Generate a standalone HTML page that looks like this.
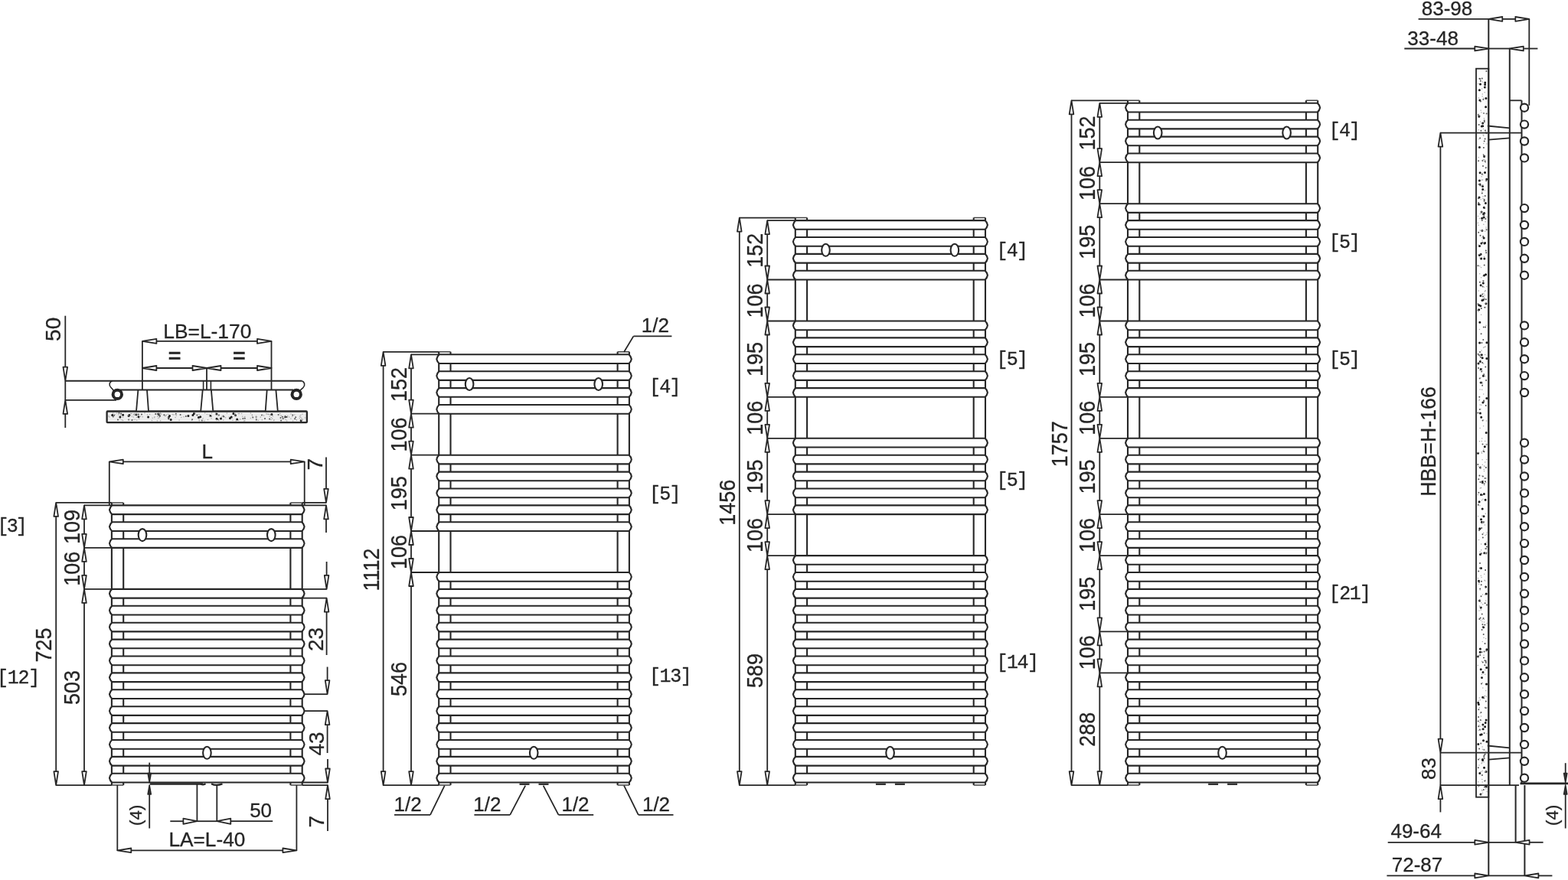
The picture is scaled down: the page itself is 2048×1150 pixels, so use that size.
<!DOCTYPE html>
<html lang="en">
<head>
<meta charset="utf-8">
<title>Radiator dimensions</title>
<style>
html,body{margin:0;padding:0;background:#fff;}
body{width:2048px;height:1150px;overflow:hidden;}
svg{display:block;will-change:transform;}
svg text{fill:#262626;stroke:#262626;stroke-width:.3px;}
.a{font-family:"Liberation Sans",Arial,Helvetica,sans-serif;}
.m{font-family:"Liberation Mono","DejaVu Sans Mono",monospace;}
</style>
</head>
<body>
<svg width="2048" height="1150" viewBox="0 0 2048 1150">
<g fill="none" stroke="#262626" style="filter:blur(.4px)">
<rect x="139.6" y="537.5" width="261.3" height="14.7" rx="1" stroke-width="2.3" fill="#ededed"/>
<path d="M156.9 545h.01M253.4 540.5h.01M181 544.8h.01M304.9 540.4h.01M168.1 543.5h.01M261.7 544.8h.01M354.9 541.5h.01M274.9 543.5h.01M309.7 548h.01M282.9 541.1h.01M160.6 542.3h.01M302.2 545.1h.01M168.9 542.5h.01M288.5 547h.01M146.7 542.4h.01M245.9 543.4h.01M207.6 541.5h.01M221.5 543.5h.01M193.6 545h.01M300.4 546.4h.01M220.2 545.6h.01M393.2 549.4h.01M372.5 544.8h.01M223.2 548.5h.01M251.9 542.6h.01M283 547.2h.01M307.5 542.7h.01M177.8 541.8h.01M259.4 545.5h.01" stroke-width="3" stroke-linecap="round" stroke="#1c1c1c"/>
<path d="M251 548.3h.01M154 548.6h.01M158.1 540.4h.01M292.4 544.5h.01M346 547h.01M147.8 544.6h.01M180.8 541.6h.01M242.8 543.9h.01M155.5 539.8h.01M366.5 546.1h.01M168.2 543.3h.01M386.2 545.2h.01M209.1 543.6h.01M352.1 547.4h.01M149.2 542.7h.01M235.6 542.1h.01M334.6 544.7h.01M385.1 547.3h.01M354.2 542h.01M208.6 544.1h.01M284.6 547.9h.01M285.9 542.4h.01M367.1 549.5h.01M342 542.6h.01M203.2 540.9h.01M220.3 547.6h.01M330.3 545.5h.01M263.9 549.4h.01M214.4 542.3h.01M317.4 546.9h.01M206.8 540.6h.01M319.8 546.8h.01M172.4 549h.01M257.4 542.6h.01M369.7 547h.01M334.8 548.4h.01M168.1 548.4h.01M382.3 542.4h.01M185 541.5h.01M374.7 544.9h.01M229.8 540.7h.01M363.6 542h.01M205.8 540.9h.01M307.8 542.9h.01M291.7 543.8h.01M369 544.7h.01" stroke-width="2" stroke-linecap="round" stroke="#555"/>
<path d="M225.2 541.4h.01M160.6 545.3h.01M199.3 546.3h.01M290.2 543.9h.01M179 541h.01M351.6 541.7h.01M306.1 543.6h.01M316.7 544.2h.01M289.5 545.2h.01M329.3 542.8h.01M172.3 544.1h.01M313.6 547.7h.01M366.8 543h.01M294.6 545.8h.01M357.7 549.5h.01M312.6 540.4h.01M308.2 550h.01M215.1 543.8h.01M172.1 540.4h.01M175.2 542.4h.01M365.8 540.6h.01M283.1 548.9h.01M363.9 542.7h.01M234.1 548.9h.01M201.9 544.8h.01M209.5 539.8h.01M236.8 545.6h.01M319.3 545.1h.01M315.6 540.4h.01M342.3 548.8h.01M195.6 541.5h.01M206.8 543.4h.01M173.5 548.5h.01M281.5 540.1h.01M393.3 548.7h.01M340.2 545.3h.01M226.7 542.1h.01M394.9 548.6h.01M319.8 549.7h.01M382.6 550h.01M192.5 541.9h.01M373.2 548.5h.01M311.6 549.2h.01M344.6 543.2h.01M391.5 543.9h.01M174.6 541.4h.01M349.1 541.3h.01M393.7 546.6h.01M391.3 546.5h.01M381.8 544.3h.01M217.2 542.3h.01M375.7 543.4h.01M291.8 549.1h.01M377.7 545h.01M276.4 540h.01M189 539.8h.01M186.3 544.7h.01M284.9 543.2h.01M340.3 545h.01M337.2 549.2h.01M299.3 545h.01M319.9 544.5h.01M264.8 549.5h.01M285.7 549.5h.01M177.2 541.1h.01M313.9 547.9h.01M181.7 547.2h.01M178.7 548.9h.01M198.4 549.6h.01M267.1 550h.01M183.5 544.2h.01M229.1 541.8h.01M327.4 540h.01M255.1 540h.01M395 547.9h.01M250.4 549.2h.01M208.4 541.3h.01M156.8 546.9h.01M160.6 549.5h.01M347.9 540.7h.01M159.1 548.7h.01M229.1 545.5h.01M210.8 541.1h.01M154.9 541.9h.01M270.4 541.6h.01M352.3 544.3h.01M356.3 543.8h.01M318.6 549.9h.01M355.7 547.1h.01M175.3 540.5h.01M358 548.8h.01M260 541.4h.01M209.6 549.7h.01M282.5 542.3h.01M240 544.7h.01M209.8 540.7h.01M152.7 540h.01M201.8 545.8h.01M334.7 546.6h.01M367.8 543.8h.01M394.9 541.3h.01M307.2 540.3h.01M371.1 546.3h.01M350.6 541.2h.01M271.5 548.4h.01M354.2 545.8h.01M150 541.2h.01M168.9 548.4h.01M303.2 546.3h.01M267.7 539.8h.01M334.2 545h.01M311.3 540.5h.01M329.3 541.9h.01M392.6 544.9h.01M265 546.8h.01M179.9 542.4h.01M157.6 542.6h.01M274.6 544.6h.01M259.9 548.2h.01M384.8 542h.01M178.4 545.2h.01M176.1 548.2h.01M142.9 544.9h.01M219.5 541.2h.01M379.9 547.1h.01M216.4 543.6h.01M398.5 545.9h.01M273.2 541.8h.01M387.5 548.9h.01M304 549.2h.01M330.1 544.4h.01M380 541.1h.01M230.3 542.9h.01M392.7 542.5h.01M219.3 545.5h.01M374.7 550.1h.01M208.3 545.7h.01M334.5 544.1h.01M276.6 543.7h.01M157.9 542.7h.01M174.3 545h.01M205.8 543.9h.01M387 548.5h.01M147.6 540.1h.01M372 544.7h.01M142 543.8h.01M354 548.6h.01M276.1 546.8h.01M327.3 546.5h.01M342.9 542.2h.01M206.7 546.4h.01M170.8 540.5h.01M296.4 539.9h.01M260.3 549.7h.01M205.4 549.7h.01" stroke-width="1.5" stroke-linecap="round" stroke="#aaa"/>
<path d="M180.4 509.6L178 537.4L194 537.4L192 509.6" stroke-width="1.8" fill="#fff"/>
<path d="M264.7 509.6L262.2 537.4L278.3 537.4L275.9 509.6" stroke-width="1.8" fill="#fff"/>
<path d="M348.7 509.6L346.7 537.4L362.8 537.4L360.4 509.6" stroke-width="1.8" fill="#fff"/>
<path d="M85.3 497.7L394.3 497.7" stroke-width="2"/>
<path d="M157 509.6L383 509.6" stroke-width="2"/>
<path d="M146.6 497.7C143 499 141.6 503 145 506.5C146.5 508 147.5 509 148.5 510.5" stroke-width="1.6"/>
<path d="M394.3 497.7C397.6 499 399.2 503 396 506.5C394.5 508 393 509 392 510.5" stroke-width="1.6"/>
<circle cx="153.3" cy="515.4" r="5.7" stroke-width="4" fill="#fff"/>
<circle cx="387.2" cy="515.4" r="5.7" stroke-width="4" fill="#fff"/>
<path d="M265.6 497.7L265.6 509.6" stroke-width="1.6"/>
<path d="M275.4 497.7L275.4 509.6" stroke-width="1.6"/>
<path d="M85.3 522.9L152 522.9" stroke-width="1.8"/>
<path d="M85.3 412.7L85.3 480" stroke-width="1.8"/>
<path d="M85.3 497.7L85.3 522.9" stroke-width="1.8"/>
<path d="M85.3 541L85.3 559" stroke-width="1.8"/>
<path d="M85.3 497.7L82.5 479.7L88.1 479.7Z" stroke-width="1.8" fill="#fff" stroke-linejoin="round"/>
<path d="M85.3 522.9L82.5 540.9L88.1 540.9Z" stroke-width="1.8" fill="#fff" stroke-linejoin="round"/>
<text class="a" transform="translate(79.2 430.3) rotate(-90)" font-size="28" text-anchor="middle">50</text>
<path d="M185.9 445.9L185.9 509.6" stroke-width="1.8"/>
<path d="M354.5 445.9L354.5 509.6" stroke-width="1.8"/>
<path d="M270 481L270 509.6" stroke-width="1.8"/>
<path d="M204 445.9L336.4 445.9" stroke-width="1.8"/>
<path d="M185.9 445.9L204.4 442.9L204.4 448.9Z" stroke-width="1.8" fill="#fff" stroke-linejoin="round"/>
<path d="M354.5 445.9L336 442.9L336 448.9Z" stroke-width="1.8" fill="#fff" stroke-linejoin="round"/>
<path d="M204 481L252 481" stroke-width="1.8"/>
<path d="M288 481L336.4 481" stroke-width="1.8"/>
<path d="M185.9 481L204.4 478L204.4 484Z" stroke-width="1.8" fill="#fff" stroke-linejoin="round"/>
<path d="M270 481L251.5 478L251.5 484Z" stroke-width="1.8" fill="#fff" stroke-linejoin="round"/>
<path d="M270 481L288.5 478L288.5 484Z" stroke-width="1.8" fill="#fff" stroke-linejoin="round"/>
<path d="M354.5 481L336 478L336 484Z" stroke-width="1.8" fill="#fff" stroke-linejoin="round"/>
<text class="a" transform="translate(270.8 442)" font-size="26.4" text-anchor="middle">LB=L-170</text>
<text class="a" transform="translate(228 473.6) scale(1.140 1.000)" font-size="25" text-anchor="middle" font-weight="bold">=</text>
<text class="a" transform="translate(312.3 473.6) scale(1.140 1.000)" font-size="25" text-anchor="middle" font-weight="bold">=</text>
<path d="M145.9 656.9V1026.1M161.2 656.9V1026.1" stroke-width="2.1"/>
<path d="M145.9 656.9H161.2M145.9 1026.1H161.2" stroke-width="1.5" stroke="#444"/>
<path d="M379.4 656.9V1026.1M394.7 656.9V1026.1" stroke-width="2.1"/>
<path d="M379.4 656.9H394.7M379.4 1026.1H394.7" stroke-width="1.5" stroke="#444"/>
<path d="M146.3 660.4H394.3Q396.9 662.4 397.6 666.3Q396.9 670.1 394.3 672.1H146.3Q143.7 670.1 143 666.3Q143.7 662.4 146.3 660.4ZM146.3 682.3H394.3Q396.9 684.3 397.6 688.2Q396.9 692 394.3 694H146.3Q143.7 692 143 688.2Q143.7 684.3 146.3 682.3ZM146.3 704.2H394.3Q396.9 706.2 397.6 710.1Q396.9 713.9 394.3 715.9H146.3Q143.7 713.9 143 710.1Q143.7 706.2 146.3 704.2ZM146.3 769.9H394.3Q396.9 771.9 397.6 775.8Q396.9 779.6 394.3 781.6H146.3Q143.7 779.6 143 775.8Q143.7 771.9 146.3 769.9ZM146.3 791.8H394.3Q396.9 793.8 397.6 797.7Q396.9 801.5 394.3 803.5H146.3Q143.7 801.5 143 797.7Q143.7 793.8 146.3 791.8ZM146.3 813.7H394.3Q396.9 815.7 397.6 819.6Q396.9 823.4 394.3 825.4H146.3Q143.7 823.4 143 819.6Q143.7 815.7 146.3 813.7ZM146.3 835.6H394.3Q396.9 837.6 397.6 841.5Q396.9 845.3 394.3 847.3H146.3Q143.7 845.3 143 841.5Q143.7 837.6 146.3 835.6ZM146.3 857.5H394.3Q396.9 859.5 397.6 863.4Q396.9 867.2 394.3 869.2H146.3Q143.7 867.2 143 863.4Q143.7 859.5 146.3 857.5ZM146.3 879.4H394.3Q396.9 881.4 397.6 885.3Q396.9 889.1 394.3 891.1H146.3Q143.7 889.1 143 885.3Q143.7 881.4 146.3 879.4ZM146.3 901.3H394.3Q396.9 903.3 397.6 907.2Q396.9 911 394.3 913H146.3Q143.7 911 143 907.2Q143.7 903.3 146.3 901.3ZM146.3 923.2H394.3Q396.9 925.2 397.6 929.1Q396.9 932.9 394.3 934.9H146.3Q143.7 932.9 143 929.1Q143.7 925.2 146.3 923.2ZM146.3 945.1H394.3Q396.9 947.1 397.6 951Q396.9 954.8 394.3 956.8H146.3Q143.7 954.8 143 951Q143.7 947.1 146.3 945.1ZM146.3 967H394.3Q396.9 969 397.6 972.9Q396.9 976.7 394.3 978.7H146.3Q143.7 976.7 143 972.9Q143.7 969 146.3 967ZM146.3 988.9H394.3Q396.9 990.9 397.6 994.8Q396.9 998.6 394.3 1000.6H146.3Q143.7 998.6 143 994.8Q143.7 990.9 146.3 988.9ZM146.3 1010.8H394.3Q396.9 1012.8 397.6 1016.7Q396.9 1020.5 394.3 1022.5H146.3Q143.7 1020.5 143 1016.7Q143.7 1012.8 146.3 1010.8Z" stroke-width="2.1" fill="#fff" stroke-linejoin="round"/>
<ellipse cx="186" cy="699.1" rx="5.3" ry="8" stroke-width="2.1" fill="#fff"/>
<ellipse cx="354.3" cy="699.1" rx="5.3" ry="8" stroke-width="2.1" fill="#fff"/>
<ellipse cx="270.4" cy="983.8" rx="5.3" ry="8" stroke-width="2.1" fill="#fff"/>
<path d="M73.2 656.9L145.9 656.9" stroke-width="1.8"/>
<path d="M394.7 656.9L426 656.9" stroke-width="1.8"/>
<path d="M110 660.4L145.6 660.4" stroke-width="1.8"/>
<path d="M395 660.4L426 660.4" stroke-width="1.8"/>
<path d="M73.2 1026.1L145.9 1026.1" stroke-width="1.8"/>
<path d="M394.7 1026.1L428 1026.1" stroke-width="1.8"/>
<path d="M395 1022.5L428 1022.5" stroke-width="1.8"/>
<path d="M73.2 674.9L73.2 1008.1" stroke-width="1.8"/>
<path d="M73.2 656.9L70.4 674.9L76 674.9Z" stroke-width="1.8" fill="#fff" stroke-linejoin="round"/>
<path d="M73.2 1026.1L70.4 1008.1L76 1008.1Z" stroke-width="1.8" fill="#fff" stroke-linejoin="round"/>
<text class="a" transform="translate(67.3 843) rotate(-90) scale(1.000 1.090)" font-size="27" text-anchor="middle">725</text>
<path d="M110 678.4L110 697.9" stroke-width="1.8"/>
<text class="a" transform="translate(103.7 688.6) rotate(-90) scale(1.000 1.090)" font-size="27" text-anchor="middle">109</text>
<path d="M110 733.9L110 751.9" stroke-width="1.8"/>
<text class="a" transform="translate(103.7 743.3) rotate(-90) scale(1.000 1.090)" font-size="27" text-anchor="middle">106</text>
<path d="M110 787.9L110 1008.1" stroke-width="1.8"/>
<text class="a" transform="translate(103.7 898.4) rotate(-90) scale(1.000 1.090)" font-size="27" text-anchor="middle">503</text>
<path d="M110 660.4L107.2 678.4L112.8 678.4Z" stroke-width="1.8" fill="#fff" stroke-linejoin="round"/>
<path d="M110 715.9L107.2 697.9L112.8 697.9Z" stroke-width="1.8" fill="#fff" stroke-linejoin="round"/>
<path d="M110 715.9L107.2 733.9L112.8 733.9Z" stroke-width="1.8" fill="#fff" stroke-linejoin="round"/>
<path d="M110 769.9L107.2 751.9L112.8 751.9Z" stroke-width="1.8" fill="#fff" stroke-linejoin="round"/>
<path d="M110 769.9L107.2 787.9L112.8 787.9Z" stroke-width="1.8" fill="#fff" stroke-linejoin="round"/>
<path d="M110 1026.1L107.2 1008.1L112.8 1008.1Z" stroke-width="1.8" fill="#fff" stroke-linejoin="round"/>
<path d="M110 715.9L145.6 715.9" stroke-width="1.8"/>
<path d="M110 769.9L145.6 769.9" stroke-width="1.8"/>
<path d="M142.8 603.4L142.8 660.9" stroke-width="1.8"/>
<path d="M397.7 603.4L397.7 660.9" stroke-width="1.8"/>
<path d="M160 603.4L380.5 603.4" stroke-width="1.8"/>
<path d="M142.8 603.4L160.8 600.6L160.8 606.2Z" stroke-width="1.8" fill="#fff" stroke-linejoin="round"/>
<path d="M397.7 603.4L379.7 600.6L379.7 606.2Z" stroke-width="1.8" fill="#fff" stroke-linejoin="round"/>
<text class="a" transform="translate(270.8 598.6)" font-size="26" text-anchor="middle">L</text>
<path d="M426 597.6L426 638.9" stroke-width="1.8"/>
<path d="M426 656.9L423.2 638.9L428.8 638.9Z" stroke-width="1.8" fill="#fff" stroke-linejoin="round"/>
<path d="M426 660.4L423.2 678.4L428.8 678.4Z" stroke-width="1.8" fill="#fff" stroke-linejoin="round"/>
<path d="M426 678.4L426 696" stroke-width="1.8"/>
<text class="a" transform="translate(421.3 606.6) rotate(-90)" font-size="28" text-anchor="middle">7</text>
<path d="M395 769.9L426.6 769.9" stroke-width="1.8"/>
<path d="M395 781.6L426.6 781.6" stroke-width="1.8"/>
<path d="M426.6 734L426.6 751.9" stroke-width="1.8"/>
<path d="M426.6 769.9L423.8 751.9L429.4 751.9Z" stroke-width="1.8" fill="#fff" stroke-linejoin="round"/>
<path d="M426.6 781.6L423.8 799.6L429.4 799.6Z" stroke-width="1.8" fill="#fff" stroke-linejoin="round"/>
<path d="M426.6 799.6L426.6 856" stroke-width="1.8"/>
<text class="a" transform="translate(421.6 835.4) rotate(-90)" font-size="28" text-anchor="middle">23</text>
<path d="M398 907.2L427.6 907.2" stroke-width="1.8"/>
<path d="M398 929.1L427.6 929.1" stroke-width="1.8"/>
<path d="M427.6 871.5L427.6 889.2" stroke-width="1.8"/>
<path d="M427.6 907.2L424.8 889.2L430.4 889.2Z" stroke-width="1.8" fill="#fff" stroke-linejoin="round"/>
<path d="M427.6 929.1L424.8 947.1L430.4 947.1Z" stroke-width="1.8" fill="#fff" stroke-linejoin="round"/>
<path d="M427.6 947.1L427.6 984" stroke-width="1.8"/>
<text class="a" transform="translate(422.5 972) rotate(-90)" font-size="28" text-anchor="middle">43</text>
<path d="M428 992L428 1004.5" stroke-width="1.8"/>
<path d="M428 1022.5L425.2 1004.5L430.8 1004.5Z" stroke-width="1.8" fill="#fff" stroke-linejoin="round"/>
<path d="M428 1026.1L425.2 1044.1L430.8 1044.1Z" stroke-width="1.8" fill="#fff" stroke-linejoin="round"/>
<path d="M428 1044.1L428 1086" stroke-width="1.8"/>
<text class="a" transform="translate(422.8 1073.8) rotate(-90)" font-size="28" text-anchor="middle">7</text>
<path d="M196 1024.5L265 1024.5" stroke-width="2.6"/>
<path d="M262 1024.6q4 1.8 6.5 -.4M276 1024.2q6 3.4 14.5 .2" stroke-width="2.2"/>
<path d="M257.4 1025L257.4 1073.2" stroke-width="1.8"/>
<path d="M283.3 1025L283.3 1073.2" stroke-width="1.8"/>
<path d="M222.3 1073.2L240 1073.2" stroke-width="1.8"/>
<path d="M257.4 1073.2L283.3 1073.2" stroke-width="1.8"/>
<path d="M301 1073.2L356.2 1073.2" stroke-width="1.8"/>
<path d="M257.4 1073.2L239.4 1069.6L239.4 1076.8Z" stroke-width="1.8" fill="#fff" stroke-linejoin="round"/>
<path d="M283.3 1073.2L301.3 1069.6L301.3 1076.8Z" stroke-width="1.8" fill="#fff" stroke-linejoin="round"/>
<text class="a" transform="translate(340.6 1068.4)" font-size="26" text-anchor="middle">50</text>
<path d="M153.3 1026.1L153.3 1111.3" stroke-width="1.8"/>
<path d="M387.4 1026.1L387.4 1111.3" stroke-width="1.8"/>
<path d="M171 1111.3L370 1111.3" stroke-width="1.8"/>
<path d="M153.3 1111.3L171.3 1108.5L171.3 1114.1Z" stroke-width="1.8" fill="#fff" stroke-linejoin="round"/>
<path d="M387.4 1111.3L369.4 1108.5L369.4 1114.1Z" stroke-width="1.8" fill="#fff" stroke-linejoin="round"/>
<text class="a" transform="translate(270.4 1106)" font-size="26.2" text-anchor="middle">LA=L-40</text>
<path d="M195.2 996.6L195.2 1011" stroke-width="1.8"/>
<path d="M195.2 1023L193 1010.5L197.4 1010.5Z" stroke-width="1.4" fill="#333" stroke-linejoin="round"/>
<path d="M195.2 1025.6L193 1038.1L197.4 1038.1Z" stroke-width="1.4" fill="#333" stroke-linejoin="round"/>
<path d="M195.2 1037.6L195.2 1082.5" stroke-width="1.8"/>
<text class="m" transform="translate(185.3 1065.3) rotate(-90)" x="-16.1 -6.7 2.6" y="0" font-size="22.5">(4)</text>
<text class="m" transform="translate(0 694.5) scale(1 1.05)" x="-3.5 8.7 20.8" y="0" font-size="25">[3]</text>
<text class="m" transform="translate(0 892.6) scale(1 1.05)" x="-4.1 9.7 23.5 37.3" y="0" font-size="25">[12]</text>
<path d="M573.2 459.8V1026.1M588.5 459.8V1026.1" stroke-width="2.1"/>
<path d="M573.2 459.8H588.5M573.2 1026.1H588.5" stroke-width="1.5" stroke="#444"/>
<path d="M806.6 459.8V1026.1M821.9 459.8V1026.1" stroke-width="2.1"/>
<path d="M806.6 459.8H821.9M806.6 1026.1H821.9" stroke-width="1.5" stroke="#444"/>
<path d="M573.6 463.3H821.5Q824.1 465.3 824.8 469.2Q824.1 473 821.5 475H573.6Q571 473 570.3 469.2Q571 465.3 573.6 463.3ZM573.6 485.2H821.5Q824.1 487.2 824.8 491.1Q824.1 494.9 821.5 496.9H573.6Q571 494.9 570.3 491.1Q571 487.2 573.6 485.2ZM573.6 507.1H821.5Q824.1 509.1 824.8 513Q824.1 516.8 821.5 518.8H573.6Q571 516.8 570.3 513Q571 509.1 573.6 507.1ZM573.6 529H821.5Q824.1 531 824.8 534.9Q824.1 538.7 821.5 540.7H573.6Q571 538.7 570.3 534.9Q571 531 573.6 529ZM573.6 594.7H821.5Q824.1 596.7 824.8 600.6Q824.1 604.4 821.5 606.4H573.6Q571 604.4 570.3 600.6Q571 596.7 573.6 594.7ZM573.6 616.6H821.5Q824.1 618.6 824.8 622.5Q824.1 626.3 821.5 628.3H573.6Q571 626.3 570.3 622.5Q571 618.6 573.6 616.6ZM573.6 638.5H821.5Q824.1 640.5 824.8 644.4Q824.1 648.2 821.5 650.2H573.6Q571 648.2 570.3 644.4Q571 640.5 573.6 638.5ZM573.6 660.4H821.5Q824.1 662.4 824.8 666.3Q824.1 670.1 821.5 672.1H573.6Q571 670.1 570.3 666.3Q571 662.4 573.6 660.4ZM573.6 682.3H821.5Q824.1 684.3 824.8 688.2Q824.1 692 821.5 694H573.6Q571 692 570.3 688.2Q571 684.3 573.6 682.3ZM573.6 748H821.5Q824.1 750 824.8 753.9Q824.1 757.7 821.5 759.7H573.6Q571 757.7 570.3 753.9Q571 750 573.6 748ZM573.6 769.9H821.5Q824.1 771.9 824.8 775.8Q824.1 779.6 821.5 781.6H573.6Q571 779.6 570.3 775.8Q571 771.9 573.6 769.9ZM573.6 791.8H821.5Q824.1 793.8 824.8 797.7Q824.1 801.5 821.5 803.5H573.6Q571 801.5 570.3 797.7Q571 793.8 573.6 791.8ZM573.6 813.7H821.5Q824.1 815.7 824.8 819.6Q824.1 823.4 821.5 825.4H573.6Q571 823.4 570.3 819.6Q571 815.7 573.6 813.7ZM573.6 835.6H821.5Q824.1 837.6 824.8 841.5Q824.1 845.3 821.5 847.3H573.6Q571 845.3 570.3 841.5Q571 837.6 573.6 835.6ZM573.6 857.5H821.5Q824.1 859.5 824.8 863.4Q824.1 867.2 821.5 869.2H573.6Q571 867.2 570.3 863.4Q571 859.5 573.6 857.5ZM573.6 879.4H821.5Q824.1 881.4 824.8 885.3Q824.1 889.1 821.5 891.1H573.6Q571 889.1 570.3 885.3Q571 881.4 573.6 879.4ZM573.6 901.3H821.5Q824.1 903.3 824.8 907.2Q824.1 911 821.5 913H573.6Q571 911 570.3 907.2Q571 903.3 573.6 901.3ZM573.6 923.2H821.5Q824.1 925.2 824.8 929.1Q824.1 932.9 821.5 934.9H573.6Q571 932.9 570.3 929.1Q571 925.2 573.6 923.2ZM573.6 945.1H821.5Q824.1 947.1 824.8 951Q824.1 954.8 821.5 956.8H573.6Q571 954.8 570.3 951Q571 947.1 573.6 945.1ZM573.6 967H821.5Q824.1 969 824.8 972.9Q824.1 976.7 821.5 978.7H573.6Q571 976.7 570.3 972.9Q571 969 573.6 967ZM573.6 988.9H821.5Q824.1 990.9 824.8 994.8Q824.1 998.6 821.5 1000.6H573.6Q571 998.6 570.3 994.8Q571 990.9 573.6 988.9ZM573.6 1010.8H821.5Q824.1 1012.8 824.8 1016.7Q824.1 1020.5 821.5 1022.5H573.6Q571 1020.5 570.3 1016.7Q571 1012.8 573.6 1010.8Z" stroke-width="2.1" fill="#fff" stroke-linejoin="round"/>
<ellipse cx="613.1" cy="502" rx="5.3" ry="8" stroke-width="2.1" fill="#fff"/>
<ellipse cx="781.7" cy="502" rx="5.3" ry="8" stroke-width="2.1" fill="#fff"/>
<ellipse cx="697.2" cy="983.8" rx="5.3" ry="8" stroke-width="2.1" fill="#fff"/>
<path d="M500.6 459.8L573.2 459.8" stroke-width="1.8"/>
<path d="M537 463.3L572.9 463.3" stroke-width="1.8"/>
<path d="M500.6 1026.1L573.2 1026.1" stroke-width="1.8"/>
<path d="M500.6 477.8L500.6 1008.1" stroke-width="1.8"/>
<path d="M500.6 459.8L497.8 477.8L503.4 477.8Z" stroke-width="1.8" fill="#fff" stroke-linejoin="round"/>
<path d="M500.6 1026.1L497.8 1008.1L503.4 1008.1Z" stroke-width="1.8" fill="#fff" stroke-linejoin="round"/>
<text class="a" transform="translate(494.7 744.4) rotate(-90) scale(1.000 1.090)" font-size="27" text-anchor="middle">1112</text>
<path d="M537 481.3L537 522.7" stroke-width="1.8"/>
<text class="a" transform="translate(530.7 502.4) rotate(-90) scale(1.000 1.090)" font-size="27" text-anchor="middle">152</text>
<path d="M537 558.7L537 576.7" stroke-width="1.8"/>
<text class="a" transform="translate(530.7 568.1) rotate(-90) scale(1.000 1.090)" font-size="27" text-anchor="middle">106</text>
<path d="M537 612.7L537 676" stroke-width="1.8"/>
<text class="a" transform="translate(530.7 644.8) rotate(-90) scale(1.000 1.090)" font-size="27" text-anchor="middle">195</text>
<path d="M537 712L537 730" stroke-width="1.8"/>
<text class="a" transform="translate(530.7 721.4) rotate(-90) scale(1.000 1.090)" font-size="27" text-anchor="middle">106</text>
<path d="M537 766L537 1008.1" stroke-width="1.8"/>
<text class="a" transform="translate(530.7 887.5) rotate(-90) scale(1.000 1.090)" font-size="27" text-anchor="middle">546</text>
<path d="M537 463.3L534.2 481.3L539.8 481.3Z" stroke-width="1.8" fill="#fff" stroke-linejoin="round"/>
<path d="M537 540.7L534.2 522.7L539.8 522.7Z" stroke-width="1.8" fill="#fff" stroke-linejoin="round"/>
<path d="M537 540.7L534.2 558.7L539.8 558.7Z" stroke-width="1.8" fill="#fff" stroke-linejoin="round"/>
<path d="M537 594.7L534.2 576.7L539.8 576.7Z" stroke-width="1.8" fill="#fff" stroke-linejoin="round"/>
<path d="M537 594.7L534.2 612.7L539.8 612.7Z" stroke-width="1.8" fill="#fff" stroke-linejoin="round"/>
<path d="M537 694L534.2 676L539.8 676Z" stroke-width="1.8" fill="#fff" stroke-linejoin="round"/>
<path d="M537 694L534.2 712L539.8 712Z" stroke-width="1.8" fill="#fff" stroke-linejoin="round"/>
<path d="M537 748L534.2 730L539.8 730Z" stroke-width="1.8" fill="#fff" stroke-linejoin="round"/>
<path d="M537 748L534.2 766L539.8 766Z" stroke-width="1.8" fill="#fff" stroke-linejoin="round"/>
<path d="M537 1026.1L534.2 1008.1L539.8 1008.1Z" stroke-width="1.8" fill="#fff" stroke-linejoin="round"/>
<path d="M537 540.7L572.9 540.7" stroke-width="1.8"/>
<path d="M537 594.7L572.9 594.7" stroke-width="1.8"/>
<path d="M537 694L572.9 694" stroke-width="1.8"/>
<path d="M537 748L572.9 748" stroke-width="1.8"/>
<path d="M678.5 1024.7h13M703.5 1024.7h13" stroke-width="2.4" stroke="#333"/>
<text class="m" transform="translate(0 513.1) scale(1 1.05)" x="848 861.2 874.5" y="0" font-size="25">[4]</text>
<text class="m" transform="translate(0 653.1) scale(1 1.05)" x="848 861.2 874.5" y="0" font-size="25">[5]</text>
<text class="m" transform="translate(0 891) scale(1 1.05)" x="848 861.6 875.2 888.8" y="0" font-size="25">[13]</text>
<text class="a" transform="translate(855.9 434.2)" font-size="26" text-anchor="middle">1/2</text>
<path d="M827.4 439.4L877.4 439.4" stroke-width="1.8"/>
<path d="M827.4 439.4L815 460" stroke-width="1.8"/>
<text class="a" transform="translate(532.6 1059.6)" font-size="26" text-anchor="middle">1/2</text>
<path d="M515 1064.8L562 1064.8" stroke-width="1.8"/>
<path d="M562 1064.8L580.7 1026.6" stroke-width="1.8"/>
<text class="a" transform="translate(636.3 1059.6)" font-size="26" text-anchor="middle">1/2</text>
<path d="M619.4 1064.8L666.2 1064.8" stroke-width="1.8"/>
<path d="M666.2 1064.8L686.2 1026.6" stroke-width="1.8"/>
<text class="a" transform="translate(751.5 1059.6)" font-size="26" text-anchor="middle">1/2</text>
<path d="M729.5 1064.8L775.2 1064.8" stroke-width="1.8"/>
<path d="M729.5 1064.8L709.6 1026.6" stroke-width="1.8"/>
<text class="a" transform="translate(857 1059.6)" font-size="26" text-anchor="middle">1/2</text>
<path d="M833.8 1064.8L879.5 1064.8" stroke-width="1.8"/>
<path d="M833.8 1064.8L815 1026.6" stroke-width="1.8"/>
<path d="M1038.8 284.6V1026.1M1054.1 284.6V1026.1" stroke-width="2.1"/>
<path d="M1038.8 284.6H1054.1M1038.8 1026.1H1054.1" stroke-width="1.5" stroke="#444"/>
<path d="M1271.7 284.6V1026.1M1287 284.6V1026.1" stroke-width="2.1"/>
<path d="M1271.7 284.6H1287M1271.7 1026.1H1287" stroke-width="1.5" stroke="#444"/>
<path d="M1039.2 288.1H1286.6Q1289.2 290.1 1289.9 294Q1289.2 297.8 1286.6 299.8H1039.2Q1036.6 297.8 1035.9 294Q1036.6 290.1 1039.2 288.1ZM1039.2 310H1286.6Q1289.2 312 1289.9 315.9Q1289.2 319.7 1286.6 321.7H1039.2Q1036.6 319.7 1035.9 315.9Q1036.6 312 1039.2 310ZM1039.2 331.9H1286.6Q1289.2 333.9 1289.9 337.8Q1289.2 341.6 1286.6 343.6H1039.2Q1036.6 341.6 1035.9 337.8Q1036.6 333.9 1039.2 331.9ZM1039.2 353.8H1286.6Q1289.2 355.8 1289.9 359.7Q1289.2 363.5 1286.6 365.5H1039.2Q1036.6 363.5 1035.9 359.7Q1036.6 355.8 1039.2 353.8ZM1039.2 419.5H1286.6Q1289.2 421.5 1289.9 425.4Q1289.2 429.2 1286.6 431.2H1039.2Q1036.6 429.2 1035.9 425.4Q1036.6 421.5 1039.2 419.5ZM1039.2 441.4H1286.6Q1289.2 443.4 1289.9 447.3Q1289.2 451.1 1286.6 453.1H1039.2Q1036.6 451.1 1035.9 447.3Q1036.6 443.4 1039.2 441.4ZM1039.2 463.3H1286.6Q1289.2 465.3 1289.9 469.2Q1289.2 473 1286.6 475H1039.2Q1036.6 473 1035.9 469.2Q1036.6 465.3 1039.2 463.3ZM1039.2 485.2H1286.6Q1289.2 487.2 1289.9 491.1Q1289.2 494.9 1286.6 496.9H1039.2Q1036.6 494.9 1035.9 491.1Q1036.6 487.2 1039.2 485.2ZM1039.2 507.1H1286.6Q1289.2 509.1 1289.9 513Q1289.2 516.8 1286.6 518.8H1039.2Q1036.6 516.8 1035.9 513Q1036.6 509.1 1039.2 507.1ZM1039.2 572.8H1286.6Q1289.2 574.8 1289.9 578.7Q1289.2 582.5 1286.6 584.5H1039.2Q1036.6 582.5 1035.9 578.7Q1036.6 574.8 1039.2 572.8ZM1039.2 594.7H1286.6Q1289.2 596.7 1289.9 600.6Q1289.2 604.4 1286.6 606.4H1039.2Q1036.6 604.4 1035.9 600.6Q1036.6 596.7 1039.2 594.7ZM1039.2 616.6H1286.6Q1289.2 618.6 1289.9 622.5Q1289.2 626.3 1286.6 628.3H1039.2Q1036.6 626.3 1035.9 622.5Q1036.6 618.6 1039.2 616.6ZM1039.2 638.5H1286.6Q1289.2 640.5 1289.9 644.4Q1289.2 648.2 1286.6 650.2H1039.2Q1036.6 648.2 1035.9 644.4Q1036.6 640.5 1039.2 638.5ZM1039.2 660.4H1286.6Q1289.2 662.4 1289.9 666.3Q1289.2 670.1 1286.6 672.1H1039.2Q1036.6 670.1 1035.9 666.3Q1036.6 662.4 1039.2 660.4ZM1039.2 726.1H1286.6Q1289.2 728.1 1289.9 732Q1289.2 735.8 1286.6 737.8H1039.2Q1036.6 735.8 1035.9 732Q1036.6 728.1 1039.2 726.1ZM1039.2 748H1286.6Q1289.2 750 1289.9 753.9Q1289.2 757.7 1286.6 759.7H1039.2Q1036.6 757.7 1035.9 753.9Q1036.6 750 1039.2 748ZM1039.2 769.9H1286.6Q1289.2 771.9 1289.9 775.8Q1289.2 779.6 1286.6 781.6H1039.2Q1036.6 779.6 1035.9 775.8Q1036.6 771.9 1039.2 769.9ZM1039.2 791.8H1286.6Q1289.2 793.8 1289.9 797.7Q1289.2 801.5 1286.6 803.5H1039.2Q1036.6 801.5 1035.9 797.7Q1036.6 793.8 1039.2 791.8ZM1039.2 813.7H1286.6Q1289.2 815.7 1289.9 819.6Q1289.2 823.4 1286.6 825.4H1039.2Q1036.6 823.4 1035.9 819.6Q1036.6 815.7 1039.2 813.7ZM1039.2 835.6H1286.6Q1289.2 837.6 1289.9 841.5Q1289.2 845.3 1286.6 847.3H1039.2Q1036.6 845.3 1035.9 841.5Q1036.6 837.6 1039.2 835.6ZM1039.2 857.5H1286.6Q1289.2 859.5 1289.9 863.4Q1289.2 867.2 1286.6 869.2H1039.2Q1036.6 867.2 1035.9 863.4Q1036.6 859.5 1039.2 857.5ZM1039.2 879.4H1286.6Q1289.2 881.4 1289.9 885.3Q1289.2 889.1 1286.6 891.1H1039.2Q1036.6 889.1 1035.9 885.3Q1036.6 881.4 1039.2 879.4ZM1039.2 901.3H1286.6Q1289.2 903.3 1289.9 907.2Q1289.2 911 1286.6 913H1039.2Q1036.6 911 1035.9 907.2Q1036.6 903.3 1039.2 901.3ZM1039.2 923.2H1286.6Q1289.2 925.2 1289.9 929.1Q1289.2 932.9 1286.6 934.9H1039.2Q1036.6 932.9 1035.9 929.1Q1036.6 925.2 1039.2 923.2ZM1039.2 945.1H1286.6Q1289.2 947.1 1289.9 951Q1289.2 954.8 1286.6 956.8H1039.2Q1036.6 954.8 1035.9 951Q1036.6 947.1 1039.2 945.1ZM1039.2 967H1286.6Q1289.2 969 1289.9 972.9Q1289.2 976.7 1286.6 978.7H1039.2Q1036.6 976.7 1035.9 972.9Q1036.6 969 1039.2 967ZM1039.2 988.9H1286.6Q1289.2 990.9 1289.9 994.8Q1289.2 998.6 1286.6 1000.6H1039.2Q1036.6 998.6 1035.9 994.8Q1036.6 990.9 1039.2 988.9ZM1039.2 1010.8H1286.6Q1289.2 1012.8 1289.9 1016.7Q1289.2 1020.5 1286.6 1022.5H1039.2Q1036.6 1020.5 1035.9 1016.7Q1036.6 1012.8 1039.2 1010.8Z" stroke-width="2.1" fill="#fff" stroke-linejoin="round"/>
<ellipse cx="1078.5" cy="326.8" rx="5.3" ry="8" stroke-width="2.1" fill="#fff"/>
<ellipse cx="1246.9" cy="326.8" rx="5.3" ry="8" stroke-width="2.1" fill="#fff"/>
<ellipse cx="1162.6" cy="983.8" rx="5.3" ry="8" stroke-width="2.1" fill="#fff"/>
<path d="M965.8 284.6L1038.8 284.6" stroke-width="1.8"/>
<path d="M1002.2 288.1L1038.5 288.1" stroke-width="1.8"/>
<path d="M965.8 1026.1L1038.8 1026.1" stroke-width="1.8"/>
<path d="M965.8 302.6L965.8 1008.1" stroke-width="1.8"/>
<path d="M965.8 284.6L963 302.6L968.6 302.6Z" stroke-width="1.8" fill="#fff" stroke-linejoin="round"/>
<path d="M965.8 1026.1L963 1008.1L968.6 1008.1Z" stroke-width="1.8" fill="#fff" stroke-linejoin="round"/>
<text class="a" transform="translate(959.9 656.8) rotate(-90) scale(1.000 1.090)" font-size="27" text-anchor="middle">1456</text>
<path d="M1002.2 306.1L1002.2 347.5" stroke-width="1.8"/>
<text class="a" transform="translate(995.9 327.2) rotate(-90) scale(1.000 1.090)" font-size="27" text-anchor="middle">152</text>
<path d="M1002.2 383.5L1002.2 401.5" stroke-width="1.8"/>
<text class="a" transform="translate(995.9 392.9) rotate(-90) scale(1.000 1.090)" font-size="27" text-anchor="middle">106</text>
<path d="M1002.2 437.5L1002.2 500.8" stroke-width="1.8"/>
<text class="a" transform="translate(995.9 469.6) rotate(-90) scale(1.000 1.090)" font-size="27" text-anchor="middle">195</text>
<path d="M1002.2 536.8L1002.2 554.8" stroke-width="1.8"/>
<text class="a" transform="translate(995.9 546.2) rotate(-90) scale(1.000 1.090)" font-size="27" text-anchor="middle">106</text>
<path d="M1002.2 590.8L1002.2 654.1" stroke-width="1.8"/>
<text class="a" transform="translate(995.9 622.9) rotate(-90) scale(1.000 1.090)" font-size="27" text-anchor="middle">195</text>
<path d="M1002.2 690.1L1002.2 708.1" stroke-width="1.8"/>
<text class="a" transform="translate(995.9 699.5) rotate(-90) scale(1.000 1.090)" font-size="27" text-anchor="middle">106</text>
<path d="M1002.2 744.1L1002.2 1008.1" stroke-width="1.8"/>
<text class="a" transform="translate(995.9 876.5) rotate(-90) scale(1.000 1.090)" font-size="27" text-anchor="middle">589</text>
<path d="M1002.2 288.1L999.4 306.1L1005 306.1Z" stroke-width="1.8" fill="#fff" stroke-linejoin="round"/>
<path d="M1002.2 365.5L999.4 347.5L1005 347.5Z" stroke-width="1.8" fill="#fff" stroke-linejoin="round"/>
<path d="M1002.2 365.5L999.4 383.5L1005 383.5Z" stroke-width="1.8" fill="#fff" stroke-linejoin="round"/>
<path d="M1002.2 419.5L999.4 401.5L1005 401.5Z" stroke-width="1.8" fill="#fff" stroke-linejoin="round"/>
<path d="M1002.2 419.5L999.4 437.5L1005 437.5Z" stroke-width="1.8" fill="#fff" stroke-linejoin="round"/>
<path d="M1002.2 518.8L999.4 500.8L1005 500.8Z" stroke-width="1.8" fill="#fff" stroke-linejoin="round"/>
<path d="M1002.2 518.8L999.4 536.8L1005 536.8Z" stroke-width="1.8" fill="#fff" stroke-linejoin="round"/>
<path d="M1002.2 572.8L999.4 554.8L1005 554.8Z" stroke-width="1.8" fill="#fff" stroke-linejoin="round"/>
<path d="M1002.2 572.8L999.4 590.8L1005 590.8Z" stroke-width="1.8" fill="#fff" stroke-linejoin="round"/>
<path d="M1002.2 672.1L999.4 654.1L1005 654.1Z" stroke-width="1.8" fill="#fff" stroke-linejoin="round"/>
<path d="M1002.2 672.1L999.4 690.1L1005 690.1Z" stroke-width="1.8" fill="#fff" stroke-linejoin="round"/>
<path d="M1002.2 726.1L999.4 708.1L1005 708.1Z" stroke-width="1.8" fill="#fff" stroke-linejoin="round"/>
<path d="M1002.2 726.1L999.4 744.1L1005 744.1Z" stroke-width="1.8" fill="#fff" stroke-linejoin="round"/>
<path d="M1002.2 1026.1L999.4 1008.1L1005 1008.1Z" stroke-width="1.8" fill="#fff" stroke-linejoin="round"/>
<path d="M1002.2 365.5L1038.5 365.5" stroke-width="1.8"/>
<path d="M1002.2 419.5L1038.5 419.5" stroke-width="1.8"/>
<path d="M1002.2 518.8L1038.5 518.8" stroke-width="1.8"/>
<path d="M1002.2 572.8L1038.5 572.8" stroke-width="1.8"/>
<path d="M1002.2 672.1L1038.5 672.1" stroke-width="1.8"/>
<path d="M1002.2 726.1L1038.5 726.1" stroke-width="1.8"/>
<path d="M1143.9 1024.7h13M1168.9 1024.7h13" stroke-width="2.4" stroke="#333"/>
<text class="m" transform="translate(0 334.8) scale(1 1.05)" x="1301.6 1314.8 1327.9" y="0" font-size="25">[4]</text>
<text class="m" transform="translate(0 477.4) scale(1 1.05)" x="1301.6 1314.8 1327.9" y="0" font-size="25">[5]</text>
<text class="m" transform="translate(0 635.4) scale(1 1.05)" x="1301.6 1314.8 1327.9" y="0" font-size="25">[5]</text>
<text class="m" transform="translate(0 872.8) scale(1 1.05)" x="1301.6 1315.1 1328.6 1342.1" y="0" font-size="25">[14]</text>
<path d="M1473 131.3V1026.1M1488.3 131.3V1026.1" stroke-width="2.1"/>
<path d="M1473 131.3H1488.3M1473 1026.1H1488.3" stroke-width="1.5" stroke="#444"/>
<path d="M1705.9 131.3V1026.1M1721.2 131.3V1026.1" stroke-width="2.1"/>
<path d="M1705.9 131.3H1721.2M1705.9 1026.1H1721.2" stroke-width="1.5" stroke="#444"/>
<path d="M1473.4 134.8H1720.8Q1723.4 136.8 1724.1 140.7Q1723.4 144.5 1720.8 146.5H1473.4Q1470.8 144.5 1470.1 140.7Q1470.8 136.8 1473.4 134.8ZM1473.4 156.7H1720.8Q1723.4 158.7 1724.1 162.6Q1723.4 166.4 1720.8 168.4H1473.4Q1470.8 166.4 1470.1 162.6Q1470.8 158.7 1473.4 156.7ZM1473.4 178.6H1720.8Q1723.4 180.6 1724.1 184.5Q1723.4 188.3 1720.8 190.3H1473.4Q1470.8 188.3 1470.1 184.5Q1470.8 180.6 1473.4 178.6ZM1473.4 200.5H1720.8Q1723.4 202.5 1724.1 206.4Q1723.4 210.2 1720.8 212.2H1473.4Q1470.8 210.2 1470.1 206.4Q1470.8 202.5 1473.4 200.5ZM1473.4 266.2H1720.8Q1723.4 268.2 1724.1 272.1Q1723.4 275.9 1720.8 277.9H1473.4Q1470.8 275.9 1470.1 272.1Q1470.8 268.2 1473.4 266.2ZM1473.4 288.1H1720.8Q1723.4 290.1 1724.1 294Q1723.4 297.8 1720.8 299.8H1473.4Q1470.8 297.8 1470.1 294Q1470.8 290.1 1473.4 288.1ZM1473.4 310H1720.8Q1723.4 312 1724.1 315.9Q1723.4 319.7 1720.8 321.7H1473.4Q1470.8 319.7 1470.1 315.9Q1470.8 312 1473.4 310ZM1473.4 331.9H1720.8Q1723.4 333.9 1724.1 337.8Q1723.4 341.6 1720.8 343.6H1473.4Q1470.8 341.6 1470.1 337.8Q1470.8 333.9 1473.4 331.9ZM1473.4 353.8H1720.8Q1723.4 355.8 1724.1 359.7Q1723.4 363.5 1720.8 365.5H1473.4Q1470.8 363.5 1470.1 359.7Q1470.8 355.8 1473.4 353.8ZM1473.4 419.5H1720.8Q1723.4 421.5 1724.1 425.4Q1723.4 429.2 1720.8 431.2H1473.4Q1470.8 429.2 1470.1 425.4Q1470.8 421.5 1473.4 419.5ZM1473.4 441.4H1720.8Q1723.4 443.4 1724.1 447.3Q1723.4 451.1 1720.8 453.1H1473.4Q1470.8 451.1 1470.1 447.3Q1470.8 443.4 1473.4 441.4ZM1473.4 463.3H1720.8Q1723.4 465.3 1724.1 469.2Q1723.4 473 1720.8 475H1473.4Q1470.8 473 1470.1 469.2Q1470.8 465.3 1473.4 463.3ZM1473.4 485.2H1720.8Q1723.4 487.2 1724.1 491.1Q1723.4 494.9 1720.8 496.9H1473.4Q1470.8 494.9 1470.1 491.1Q1470.8 487.2 1473.4 485.2ZM1473.4 507.1H1720.8Q1723.4 509.1 1724.1 513Q1723.4 516.8 1720.8 518.8H1473.4Q1470.8 516.8 1470.1 513Q1470.8 509.1 1473.4 507.1ZM1473.4 572.8H1720.8Q1723.4 574.8 1724.1 578.7Q1723.4 582.5 1720.8 584.5H1473.4Q1470.8 582.5 1470.1 578.7Q1470.8 574.8 1473.4 572.8ZM1473.4 594.7H1720.8Q1723.4 596.7 1724.1 600.6Q1723.4 604.4 1720.8 606.4H1473.4Q1470.8 604.4 1470.1 600.6Q1470.8 596.7 1473.4 594.7ZM1473.4 616.6H1720.8Q1723.4 618.6 1724.1 622.5Q1723.4 626.3 1720.8 628.3H1473.4Q1470.8 626.3 1470.1 622.5Q1470.8 618.6 1473.4 616.6ZM1473.4 638.5H1720.8Q1723.4 640.5 1724.1 644.4Q1723.4 648.2 1720.8 650.2H1473.4Q1470.8 648.2 1470.1 644.4Q1470.8 640.5 1473.4 638.5ZM1473.4 660.4H1720.8Q1723.4 662.4 1724.1 666.3Q1723.4 670.1 1720.8 672.1H1473.4Q1470.8 670.1 1470.1 666.3Q1470.8 662.4 1473.4 660.4ZM1473.4 682.3H1720.8Q1723.4 684.3 1724.1 688.2Q1723.4 692 1720.8 694H1473.4Q1470.8 692 1470.1 688.2Q1470.8 684.3 1473.4 682.3ZM1473.4 704.2H1720.8Q1723.4 706.2 1724.1 710.1Q1723.4 713.9 1720.8 715.9H1473.4Q1470.8 713.9 1470.1 710.1Q1470.8 706.2 1473.4 704.2ZM1473.4 726.1H1720.8Q1723.4 728.1 1724.1 732Q1723.4 735.8 1720.8 737.8H1473.4Q1470.8 735.8 1470.1 732Q1470.8 728.1 1473.4 726.1ZM1473.4 748H1720.8Q1723.4 750 1724.1 753.9Q1723.4 757.7 1720.8 759.7H1473.4Q1470.8 757.7 1470.1 753.9Q1470.8 750 1473.4 748ZM1473.4 769.9H1720.8Q1723.4 771.9 1724.1 775.8Q1723.4 779.6 1720.8 781.6H1473.4Q1470.8 779.6 1470.1 775.8Q1470.8 771.9 1473.4 769.9ZM1473.4 791.8H1720.8Q1723.4 793.8 1724.1 797.7Q1723.4 801.5 1720.8 803.5H1473.4Q1470.8 801.5 1470.1 797.7Q1470.8 793.8 1473.4 791.8ZM1473.4 813.7H1720.8Q1723.4 815.7 1724.1 819.6Q1723.4 823.4 1720.8 825.4H1473.4Q1470.8 823.4 1470.1 819.6Q1470.8 815.7 1473.4 813.7ZM1473.4 835.6H1720.8Q1723.4 837.6 1724.1 841.5Q1723.4 845.3 1720.8 847.3H1473.4Q1470.8 845.3 1470.1 841.5Q1470.8 837.6 1473.4 835.6ZM1473.4 857.5H1720.8Q1723.4 859.5 1724.1 863.4Q1723.4 867.2 1720.8 869.2H1473.4Q1470.8 867.2 1470.1 863.4Q1470.8 859.5 1473.4 857.5ZM1473.4 879.4H1720.8Q1723.4 881.4 1724.1 885.3Q1723.4 889.1 1720.8 891.1H1473.4Q1470.8 889.1 1470.1 885.3Q1470.8 881.4 1473.4 879.4ZM1473.4 901.3H1720.8Q1723.4 903.3 1724.1 907.2Q1723.4 911 1720.8 913H1473.4Q1470.8 911 1470.1 907.2Q1470.8 903.3 1473.4 901.3ZM1473.4 923.2H1720.8Q1723.4 925.2 1724.1 929.1Q1723.4 932.9 1720.8 934.9H1473.4Q1470.8 932.9 1470.1 929.1Q1470.8 925.2 1473.4 923.2ZM1473.4 945.1H1720.8Q1723.4 947.1 1724.1 951Q1723.4 954.8 1720.8 956.8H1473.4Q1470.8 954.8 1470.1 951Q1470.8 947.1 1473.4 945.1ZM1473.4 967H1720.8Q1723.4 969 1724.1 972.9Q1723.4 976.7 1720.8 978.7H1473.4Q1470.8 976.7 1470.1 972.9Q1470.8 969 1473.4 967ZM1473.4 988.9H1720.8Q1723.4 990.9 1724.1 994.8Q1723.4 998.6 1720.8 1000.6H1473.4Q1470.8 998.6 1470.1 994.8Q1470.8 990.9 1473.4 988.9ZM1473.4 1010.8H1720.8Q1723.4 1012.8 1724.1 1016.7Q1723.4 1020.5 1720.8 1022.5H1473.4Q1470.8 1020.5 1470.1 1016.7Q1470.8 1012.8 1473.4 1010.8Z" stroke-width="2.1" fill="#fff" stroke-linejoin="round"/>
<ellipse cx="1512.2" cy="173.5" rx="5.3" ry="8" stroke-width="2.1" fill="#fff"/>
<ellipse cx="1680.6" cy="173.5" rx="5.3" ry="8" stroke-width="2.1" fill="#fff"/>
<ellipse cx="1596.5" cy="983.8" rx="5.3" ry="8" stroke-width="2.1" fill="#fff"/>
<path d="M1399.5 131.3L1473 131.3" stroke-width="1.8"/>
<path d="M1436.3 134.8L1472.7 134.8" stroke-width="1.8"/>
<path d="M1399.5 1026.1L1473 1026.1" stroke-width="1.8"/>
<path d="M1399.5 149.3L1399.5 1008.1" stroke-width="1.8"/>
<path d="M1399.5 131.3L1396.7 149.3L1402.3 149.3Z" stroke-width="1.8" fill="#fff" stroke-linejoin="round"/>
<path d="M1399.5 1026.1L1396.7 1008.1L1402.3 1008.1Z" stroke-width="1.8" fill="#fff" stroke-linejoin="round"/>
<text class="a" transform="translate(1393.6 580.2) rotate(-90) scale(1.000 1.090)" font-size="27" text-anchor="middle">1757</text>
<path d="M1436.3 152.8L1436.3 194.2" stroke-width="1.8"/>
<text class="a" transform="translate(1430 173.9) rotate(-90) scale(1.000 1.090)" font-size="27" text-anchor="middle">152</text>
<path d="M1436.3 230.2L1436.3 248.2" stroke-width="1.8"/>
<text class="a" transform="translate(1430 239.6) rotate(-90) scale(1.000 1.090)" font-size="27" text-anchor="middle">106</text>
<path d="M1436.3 284.2L1436.3 347.5" stroke-width="1.8"/>
<text class="a" transform="translate(1430 316.3) rotate(-90) scale(1.000 1.090)" font-size="27" text-anchor="middle">195</text>
<path d="M1436.3 383.5L1436.3 401.5" stroke-width="1.8"/>
<text class="a" transform="translate(1430 392.9) rotate(-90) scale(1.000 1.090)" font-size="27" text-anchor="middle">106</text>
<path d="M1436.3 437.5L1436.3 500.8" stroke-width="1.8"/>
<text class="a" transform="translate(1430 469.6) rotate(-90) scale(1.000 1.090)" font-size="27" text-anchor="middle">195</text>
<path d="M1436.3 536.8L1436.3 554.8" stroke-width="1.8"/>
<text class="a" transform="translate(1430 546.2) rotate(-90) scale(1.000 1.090)" font-size="27" text-anchor="middle">106</text>
<path d="M1436.3 590.8L1436.3 654.1" stroke-width="1.8"/>
<text class="a" transform="translate(1430 622.9) rotate(-90) scale(1.000 1.090)" font-size="27" text-anchor="middle">195</text>
<path d="M1436.3 690.1L1436.3 708.1" stroke-width="1.8"/>
<text class="a" transform="translate(1430 699.5) rotate(-90) scale(1.000 1.090)" font-size="27" text-anchor="middle">106</text>
<path d="M1436.3 744.1L1436.3 807.4" stroke-width="1.8"/>
<text class="a" transform="translate(1430 776.2) rotate(-90) scale(1.000 1.090)" font-size="27" text-anchor="middle">195</text>
<path d="M1436.3 843.4L1436.3 861.4" stroke-width="1.8"/>
<text class="a" transform="translate(1430 852.8) rotate(-90) scale(1.000 1.090)" font-size="27" text-anchor="middle">106</text>
<path d="M1436.3 897.4L1436.3 1008.1" stroke-width="1.8"/>
<text class="a" transform="translate(1430 953.2) rotate(-90) scale(1.000 1.090)" font-size="27" text-anchor="middle">288</text>
<path d="M1436.3 134.8L1433.5 152.8L1439.1 152.8Z" stroke-width="1.8" fill="#fff" stroke-linejoin="round"/>
<path d="M1436.3 212.2L1433.5 194.2L1439.1 194.2Z" stroke-width="1.8" fill="#fff" stroke-linejoin="round"/>
<path d="M1436.3 212.2L1433.5 230.2L1439.1 230.2Z" stroke-width="1.8" fill="#fff" stroke-linejoin="round"/>
<path d="M1436.3 266.2L1433.5 248.2L1439.1 248.2Z" stroke-width="1.8" fill="#fff" stroke-linejoin="round"/>
<path d="M1436.3 266.2L1433.5 284.2L1439.1 284.2Z" stroke-width="1.8" fill="#fff" stroke-linejoin="round"/>
<path d="M1436.3 365.5L1433.5 347.5L1439.1 347.5Z" stroke-width="1.8" fill="#fff" stroke-linejoin="round"/>
<path d="M1436.3 365.5L1433.5 383.5L1439.1 383.5Z" stroke-width="1.8" fill="#fff" stroke-linejoin="round"/>
<path d="M1436.3 419.5L1433.5 401.5L1439.1 401.5Z" stroke-width="1.8" fill="#fff" stroke-linejoin="round"/>
<path d="M1436.3 419.5L1433.5 437.5L1439.1 437.5Z" stroke-width="1.8" fill="#fff" stroke-linejoin="round"/>
<path d="M1436.3 518.8L1433.5 500.8L1439.1 500.8Z" stroke-width="1.8" fill="#fff" stroke-linejoin="round"/>
<path d="M1436.3 518.8L1433.5 536.8L1439.1 536.8Z" stroke-width="1.8" fill="#fff" stroke-linejoin="round"/>
<path d="M1436.3 572.8L1433.5 554.8L1439.1 554.8Z" stroke-width="1.8" fill="#fff" stroke-linejoin="round"/>
<path d="M1436.3 572.8L1433.5 590.8L1439.1 590.8Z" stroke-width="1.8" fill="#fff" stroke-linejoin="round"/>
<path d="M1436.3 672.1L1433.5 654.1L1439.1 654.1Z" stroke-width="1.8" fill="#fff" stroke-linejoin="round"/>
<path d="M1436.3 672.1L1433.5 690.1L1439.1 690.1Z" stroke-width="1.8" fill="#fff" stroke-linejoin="round"/>
<path d="M1436.3 726.1L1433.5 708.1L1439.1 708.1Z" stroke-width="1.8" fill="#fff" stroke-linejoin="round"/>
<path d="M1436.3 726.1L1433.5 744.1L1439.1 744.1Z" stroke-width="1.8" fill="#fff" stroke-linejoin="round"/>
<path d="M1436.3 825.4L1433.5 807.4L1439.1 807.4Z" stroke-width="1.8" fill="#fff" stroke-linejoin="round"/>
<path d="M1436.3 825.4L1433.5 843.4L1439.1 843.4Z" stroke-width="1.8" fill="#fff" stroke-linejoin="round"/>
<path d="M1436.3 879.4L1433.5 861.4L1439.1 861.4Z" stroke-width="1.8" fill="#fff" stroke-linejoin="round"/>
<path d="M1436.3 879.4L1433.5 897.4L1439.1 897.4Z" stroke-width="1.8" fill="#fff" stroke-linejoin="round"/>
<path d="M1436.3 1026.1L1433.5 1008.1L1439.1 1008.1Z" stroke-width="1.8" fill="#fff" stroke-linejoin="round"/>
<path d="M1436.3 212.2L1472.7 212.2" stroke-width="1.8"/>
<path d="M1436.3 266.2L1472.7 266.2" stroke-width="1.8"/>
<path d="M1436.3 365.5L1472.7 365.5" stroke-width="1.8"/>
<path d="M1436.3 419.5L1472.7 419.5" stroke-width="1.8"/>
<path d="M1436.3 518.8L1472.7 518.8" stroke-width="1.8"/>
<path d="M1436.3 572.8L1472.7 572.8" stroke-width="1.8"/>
<path d="M1436.3 672.1L1472.7 672.1" stroke-width="1.8"/>
<path d="M1436.3 726.1L1472.7 726.1" stroke-width="1.8"/>
<path d="M1436.3 825.4L1472.7 825.4" stroke-width="1.8"/>
<path d="M1436.3 879.4L1472.7 879.4" stroke-width="1.8"/>
<path d="M1578.1 1024.7h13M1603.1 1024.7h13" stroke-width="2.4" stroke="#333"/>
<text class="m" transform="translate(0 178.3) scale(1 1.05)" x="1735.8 1748.9 1762" y="0" font-size="25">[4]</text>
<text class="m" transform="translate(0 323.9) scale(1 1.05)" x="1735.8 1748.9 1762" y="0" font-size="25">[5]</text>
<text class="m" transform="translate(0 477.4) scale(1 1.05)" x="1735.8 1748.9 1762" y="0" font-size="25">[5]</text>
<text class="m" transform="translate(0 783.1) scale(1 1.05)" x="1735.8 1749.2 1762.7 1776.1" y="0" font-size="25">[21]</text>
<rect x="1928" y="89.7" width="16.3" height="952" stroke-width="1.8" fill="#fdfdfd"/>
<path d="M1938 674.8h.01M1930.5 592.3h.01M1932.5 321.4h.01M1941.5 894.1h.01M1941.8 468.5h.01M1932.5 784.9h.01M1934.1 372.8h.01M1940.4 265.5h.01M1937.4 491.2h.01M1937.3 370.1h.01M1933.6 960.3h.01M1938.4 645.4h.01M1938.5 1003.3h.01M1934 1037.9h.01M1935.5 885.6h.01M1938.2 284.1h.01M1937.1 391.9h.01M1941.8 520.5h.01M1930.7 918.2h.01M1939.6 110.6h.01M1933.1 225.8h.01M1939.6 949.8h.01M1941.2 775.9h.01M1930.6 857.9h.01M1939.5 225.4h.01M1940.2 944.4h.01M1936.2 665h.01M1933.4 540.1h.01M1935.9 392.6h.01M1937.5 967.8h.01M1939.4 114.1h.01M1934.5 678.8h.01M1936.5 243.6h.01M1938.8 338h.01M1941 1008.6h.01M1938.3 271.3h.01M1936.3 630.5h.01M1941.9 969.3h.01M1935 277.1h.01M1933.3 472.4h.01M1932.6 447.9h.01M1930.8 972.4h.01M1935.6 285.2h.01M1938.9 318h.01M1935.3 682.2h.01M1936.6 161.1h.01M1934.7 545.2h.01M1937.6 819.7h.01M1931.4 920.4h.01M1938.4 360.1h.01M1940.6 358.8h.01M1941.9 447.7h.01M1937.1 952.7h.01M1931.6 267.1h.01M1935.9 301.6h.01M1935.2 959.8h.01M1933.9 386.5h.01M1934.5 742.5h.01M1940 711.1h.01M1936.9 525.9h.01M1941.9 848.8h.01M1934.2 874.7h.01M1940.1 653.2h.01M1933 241.1h.01M1934.2 482.4h.01M1937.6 279.7h.01M1937 878.4h.01M1936.7 164.7h.01M1939.7 108h.01M1936.2 467.8h.01M1936.9 947.1h.01M1933.8 399.7h.01M1934.5 646.4h.01M1941.1 940.9h.01M1932.7 690.7h.01M1940.6 139.8h.01M1940.5 767.1h.01M1938.6 278.4h.01M1933.2 852.3h.01M1933.6 611h.01M1940.8 1026.9h.01M1941.2 565.4h.01M1936.4 992.6h.01M1932.4 236.1h.01M1933.4 847.9h.01M1939.6 317.6h.01M1932.3 333.6h.01M1932.8 1010.6h.01M1935.3 164.9h.01M1932.8 421.2h.01M1936.7 247.5h.01M1933.5 110.1h.01M1939.3 583.8h.01M1934.9 317.9h.01M1932.1 655.7h.01M1938.8 722.7h.01M1932.8 131h.01M1933 690.9h.01M1935.3 463.7h.01M1931 475h.01M1934.1 332.2h.01M1933.4 724.5h.01M1940.9 128.6h.01M1941.7 234.3h.01M1941.6 872.4h.01M1931.8 152.3h.01M1931.5 759.2h.01M1938.1 311.1h.01M1941.2 1027.9h.01M1938.6 204.5h.01M1931.7 404.7h.01M1932 258.1h.01M1931.7 398.7h.01M1934.6 338.1h.01M1932.4 117.8h.01M1940.9 396.8h.01M1934.2 794.1h.01M1932.4 192.6h.01M1934.4 500h.01M1936.6 993.4h.01M1936.2 629.6h.01M1936.6 911.3h.01" stroke-width="3" stroke-linecap="round" stroke="#1c1c1c"/>
<path d="M1939.6 181.5h.01M1936.4 698.2h.01M1938.1 525.1h.01M1938.6 390.8h.01M1935 893.4h.01M1932.8 953.6h.01M1937.7 829h.01M1939.2 204.1h.01M1932.4 621.6h.01M1937.8 202.7h.01M1931.4 643.8h.01M1937.3 444.1h.01M1940.9 866.1h.01M1930.8 1003.2h.01M1938.7 157.6h.01M1930.5 347.2h.01M1931 259.2h.01M1937 217h.01M1940.8 916.6h.01M1933.3 103.2h.01M1940.9 716.9h.01M1941 925.2h.01M1938.6 991.2h.01M1932.3 518.8h.01M1938.6 632.3h.01M1938.3 281.1h.01M1932.4 102.7h.01M1938.7 261.9h.01M1937.5 807.9h.01M1939.6 985.8h.01M1934.4 170.8h.01M1936.7 819.2h.01M1939.7 256.1h.01M1938.4 987.2h.01M1941.4 173.9h.01M1936.9 387.4h.01M1941.6 580.7h.01M1939.7 625h.01M1933 742.4h.01M1935.4 447.9h.01M1940.9 391.3h.01M1940.7 219.2h.01M1931 992.6h.01M1939.2 401.7h.01M1939.4 863.2h.01M1939.3 816.4h.01M1938.8 159.2h.01M1935.8 102.5h.01M1937.8 682.8h.01M1941.4 722.6h.01M1935.8 252.5h.01M1933.8 105.8h.01M1931.2 949.2h.01M1935.9 1013.1h.01M1936.5 210.1h.01M1938.1 523.5h.01M1939.1 272.1h.01M1930.8 150h.01M1941.1 497.1h.01M1931.3 626.2h.01M1934.5 779.3h.01M1935.4 852.2h.01M1940.8 327.4h.01M1934.6 436.2h.01M1936.4 815.9h.01M1938.6 958.1h.01M1938.6 851.4h.01M1932.7 494.5h.01M1941.6 148.5h.01M1932.4 151.5h.01M1932.9 267.5h.01M1932.3 809.1h.01M1936.7 865.5h.01M1941.4 850.6h.01M1936.5 580.5h.01M1941.9 714.5h.01M1930.4 539.6h.01M1932.1 240.9h.01M1937.8 1032h.01M1939.9 170.5h.01M1938.7 184.4h.01M1934.7 764.2h.01M1937.5 367.2h.01M1936.6 374.6h.01M1934.9 723.2h.01M1932.6 784.4h.01M1938.6 262.7h.01M1939.3 869.3h.01M1930.5 405.6h.01M1937.9 193h.01M1940.9 611.1h.01M1934.2 971.4h.01M1936.9 622.6h.01M1933.7 941.1h.01M1935.8 227.8h.01M1933.4 629.9h.01M1940.3 479.4h.01M1931.1 210.2h.01M1938.4 590.3h.01M1933.9 466.7h.01M1938.1 912.2h.01M1941.4 93h.01M1940.8 863.9h.01M1930.7 942.5h.01M1935.8 287.9h.01M1940.1 427.5h.01M1938.4 979.7h.01M1931.2 303.7h.01M1937.2 309.1h.01M1941.1 723.5h.01M1930.8 659.8h.01M1933.6 807.4h.01M1935.7 802.6h.01M1936.8 702.6h.01M1939.5 840.9h.01M1936.1 503.7h.01M1933.9 132.5h.01M1937.6 589.6h.01M1931 481h.01M1932 464.2h.01M1937.4 130h.01M1937.9 147.9h.01M1940.7 530.1h.01M1932.8 535h.01M1940.4 286h.01M1931.2 746.5h.01M1938.7 346.6h.01M1932.1 978.6h.01M1930.5 397.2h.01M1931.3 927.2h.01M1931.9 760.9h.01M1932.9 368.8h.01M1934.8 403h.01M1933.6 242.5h.01M1933.1 180.5h.01M1930.6 462.7h.01M1936.1 646.7h.01M1935.1 485.6h.01M1940 924.7h.01M1936.2 384.4h.01M1933 735.9h.01M1930.3 606.9h.01M1940 1009h.01M1934.4 931h.01M1936.5 316.7h.01M1935.6 822.9h.01M1933.2 769.6h.01M1940 629.3h.01M1939.7 211h.01M1935.2 689.9h.01M1936.6 549.5h.01M1939.3 1020.5h.01M1941.2 330.3h.01M1933.5 307.8h.01M1931.1 936.9h.01M1931.2 265.1h.01M1938 681.9h.01M1931.7 163.1h.01M1939.6 788.2h.01M1935 759.7h.01M1933 459.9h.01M1938 859.5h.01M1937.8 427.4h.01M1936.2 474.1h.01M1931.6 1026.7h.01M1941.6 300.3h.01M1938.6 260.7h.01M1938.2 989h.01M1932 693h.01M1940.1 745.1h.01M1938.1 489.2h.01M1941.2 236.2h.01M1941.9 790.6h.01M1938.9 1028.5h.01M1933.2 856.1h.01" stroke-width="2" stroke-linecap="round" stroke="#555"/>
<path d="M1935.6 622h.01M1935.7 572.9h.01M1932.5 576.8h.01M1931.4 858.4h.01M1930.8 1021.7h.01M1935.7 509.2h.01M1942 1034.4h.01M1933.7 158.9h.01M1931.3 407.1h.01M1931.5 149.2h.01M1932.8 347.7h.01M1939.7 380.2h.01M1932.8 465.5h.01M1937.8 187.4h.01M1932.8 336.8h.01M1941.5 550.1h.01M1932.5 792h.01M1932.6 991.3h.01M1938.5 335.6h.01M1936.8 898.9h.01M1940.7 1020h.01M1930.7 109.4h.01M1937.7 548.7h.01M1936.7 789.7h.01M1938.9 758.2h.01M1941 425.3h.01M1939.5 909.3h.01M1937.6 454.2h.01M1937.4 168.4h.01M1941.9 924.8h.01M1934.8 787.8h.01M1939.1 120.7h.01M1935.9 310.3h.01M1936.1 673.8h.01M1940.7 401.8h.01M1932.6 500.1h.01M1936.1 884.4h.01M1932.8 484.1h.01M1936.1 390.8h.01M1935.6 115.9h.01M1937.7 514.9h.01M1938 856.3h.01M1934.3 752.2h.01M1935.6 684.3h.01M1934.7 630.6h.01M1937.9 286.3h.01M1939.9 699.5h.01M1932.8 943.9h.01M1941.7 600.5h.01M1934 953.4h.01M1936.3 777h.01M1936.5 367h.01M1937.8 587.1h.01M1940.3 1008.6h.01M1937 282.6h.01M1938.4 154.8h.01M1935.1 997.7h.01M1935.4 864.2h.01M1938.9 208.7h.01M1933.2 279.6h.01M1937.7 696.5h.01M1940.3 671.2h.01M1933 793.3h.01M1941.1 298.9h.01M1940 491.4h.01M1931.8 473.5h.01M1930.5 282.6h.01M1936.2 809.7h.01M1931.5 127.9h.01M1932.5 285.4h.01M1936.3 499.4h.01M1930.5 755.7h.01M1932.4 521.9h.01M1936.3 107.1h.01M1939.7 759.1h.01M1937.7 475.2h.01M1936.2 1022.1h.01M1933.3 954.6h.01M1940.8 924.8h.01M1938 631.3h.01M1934.9 1038.4h.01M1938.5 813.1h.01M1930.6 674.7h.01M1933.2 949.2h.01M1936.2 1007.4h.01M1941.9 696.1h.01M1931.2 657.8h.01M1937.5 147.9h.01M1935.2 590.8h.01M1934.6 362.8h.01M1936.9 360.7h.01M1930.8 240.6h.01M1934.9 941.6h.01M1930.9 1027.9h.01M1936.4 979.2h.01M1935.8 1018.5h.01M1937.4 201.4h.01M1937.1 489.4h.01M1936.5 1036.3h.01M1940.7 834.5h.01M1934.5 349.4h.01M1936.9 652.2h.01M1941.8 958.8h.01M1938.2 613.4h.01M1934.3 797.1h.01M1931.2 205.8h.01M1935.3 336.6h.01M1934.6 710.9h.01M1934.1 611.5h.01M1938.3 375.2h.01M1931.2 294.2h.01M1931.3 379.9h.01M1931.7 763.5h.01M1941 981.7h.01M1934 470.5h.01M1934.8 276.9h.01M1939.6 603.9h.01M1936.9 259.6h.01M1936.3 607.3h.01M1941.6 708.5h.01M1931 609.8h.01M1931.3 169.8h.01M1940.8 172.6h.01M1932 798h.01M1933.2 301h.01M1934.3 1008.5h.01M1936.1 600.8h.01M1940 723.2h.01M1939.7 881.3h.01M1941.5 698.2h.01M1935.2 230.8h.01M1931.6 705.5h.01M1933.1 771h.01M1933.3 932h.01M1934.3 610.3h.01M1939.6 767.3h.01M1933.3 914.8h.01M1936.6 235h.01M1930.3 869.6h.01M1935.8 996.4h.01M1940.3 379.7h.01M1940 289.7h.01M1936.5 241.5h.01M1933.9 534.5h.01M1934.9 529.3h.01M1941.4 624.9h.01M1931.9 181.8h.01M1935.1 161.3h.01M1935.3 576.4h.01M1935 754.6h.01M1939.5 717.1h.01M1936.3 838.5h.01M1937.5 242.3h.01M1936.2 226.6h.01M1941.8 580.7h.01M1940.1 279.1h.01M1933.2 637.9h.01M1935.7 209.8h.01M1931.9 947.7h.01M1940.9 1031.1h.01M1937.3 208.5h.01M1932.4 1026.2h.01M1938 383.5h.01M1938.9 453.5h.01M1937 256.8h.01M1937.8 128.3h.01M1932 1000h.01M1935.8 481.7h.01M1938.4 809.6h.01M1936 1033.4h.01M1936.9 948.9h.01M1936.4 501.4h.01M1934.1 144.2h.01M1940.8 785h.01M1939.1 380.8h.01M1931.1 954.6h.01M1939.7 302.3h.01M1939.6 209.6h.01M1936.1 976h.01M1932.3 924.7h.01M1938.8 388.6h.01M1933.1 721.2h.01M1934.7 718.8h.01M1937.8 177.6h.01M1935.5 592.3h.01M1938 833.2h.01M1936.2 892.2h.01M1939.4 248.8h.01M1933.1 509.1h.01M1936 301.8h.01M1936.1 125.9h.01M1938.7 634.2h.01M1940.9 630.7h.01M1937.2 176.2h.01M1938.4 878.6h.01M1936 812.7h.01M1932 523.2h.01M1930.8 320.1h.01M1942 814.6h.01M1933 332h.01M1933.1 529.1h.01M1934.6 411.3h.01M1938.4 910.2h.01M1940.2 453.1h.01M1935.5 1032.2h.01M1933.4 464.2h.01M1939.3 776.9h.01M1934 493.7h.01M1932.7 357.7h.01M1935 458.1h.01M1937.7 627.9h.01M1941.7 374.5h.01M1941.1 297h.01M1938.1 996.1h.01M1935.9 250.2h.01M1935.2 235.2h.01M1938.5 615.8h.01M1934.4 936.1h.01M1935.8 674.5h.01M1934.5 637.6h.01M1939.3 686h.01M1933.1 559.5h.01M1936.7 683.2h.01M1938.7 750.3h.01M1937.6 556.7h.01M1934.6 362.8h.01M1934.1 260.7h.01M1932.2 912h.01M1930.9 332.7h.01M1939.6 463.6h.01M1934.2 810.8h.01M1938.6 681.9h.01M1930.5 646.4h.01M1941.7 219h.01M1933.6 784.3h.01M1933.9 849.8h.01M1933.6 463h.01M1938.4 609h.01M1936.9 228.4h.01M1942 283.8h.01M1936 484.7h.01M1934.9 147h.01M1941.3 910.4h.01M1935.5 881.2h.01M1939.1 385.8h.01M1930.4 291.3h.01M1930.4 591.3h.01M1939.7 875.5h.01M1941.8 187.9h.01M1940.9 114.7h.01M1939 609.2h.01M1940.6 396.1h.01M1932.4 430.4h.01M1937.8 293.3h.01M1940.7 902.6h.01M1933 660.7h.01M1936.3 123h.01M1935.5 653.8h.01M1940.4 212.3h.01M1936 314h.01M1937.9 979.6h.01M1939.6 576.5h.01M1931.1 915.6h.01" stroke-width="1.5" stroke-linecap="round" stroke="#aaa"/>
<path d="M1944.3 24.9L1944.3 1144.4" stroke-width="2"/>
<path d="M1971.8 63.5L1971.8 1026.1" stroke-width="2"/>
<path d="M1987.5 131.3L1987.5 1024.1" stroke-width="2"/>
<path d="M1971.8 131.3L1987.5 131.3" stroke-width="1.8"/>
<path d="M1997.3 24.9L1997.3 137.8" stroke-width="1.8"/>
<path d="M1942.8 164.5L1971.8 167.3M1944.3 182.7L1971.8 180.3" stroke-width="1.8"/>
<path d="M1942.8 974.5L1971.8 977.3M1944.3 992.7L1971.8 990.3" stroke-width="1.8"/>
<circle cx="1991" cy="140.7" r="5.1" stroke-width="2.2" fill="#fff"/>
<circle cx="1991" cy="162.6" r="5.1" stroke-width="2.2" fill="#fff"/>
<circle cx="1991" cy="184.5" r="5.1" stroke-width="2.2" fill="#fff"/>
<circle cx="1991" cy="206.4" r="5.1" stroke-width="2.2" fill="#fff"/>
<circle cx="1991" cy="272.1" r="5.1" stroke-width="2.2" fill="#fff"/>
<circle cx="1991" cy="294" r="5.1" stroke-width="2.2" fill="#fff"/>
<circle cx="1991" cy="315.9" r="5.1" stroke-width="2.2" fill="#fff"/>
<circle cx="1991" cy="337.8" r="5.1" stroke-width="2.2" fill="#fff"/>
<circle cx="1991" cy="359.7" r="5.1" stroke-width="2.2" fill="#fff"/>
<circle cx="1991" cy="425.4" r="5.1" stroke-width="2.2" fill="#fff"/>
<circle cx="1991" cy="447.3" r="5.1" stroke-width="2.2" fill="#fff"/>
<circle cx="1991" cy="469.2" r="5.1" stroke-width="2.2" fill="#fff"/>
<circle cx="1991" cy="491.1" r="5.1" stroke-width="2.2" fill="#fff"/>
<circle cx="1991" cy="513" r="5.1" stroke-width="2.2" fill="#fff"/>
<circle cx="1991" cy="578.7" r="5.1" stroke-width="2.2" fill="#fff"/>
<circle cx="1991" cy="600.6" r="5.1" stroke-width="2.2" fill="#fff"/>
<circle cx="1991" cy="622.5" r="5.1" stroke-width="2.2" fill="#fff"/>
<circle cx="1991" cy="644.4" r="5.1" stroke-width="2.2" fill="#fff"/>
<circle cx="1991" cy="666.3" r="5.1" stroke-width="2.2" fill="#fff"/>
<circle cx="1991" cy="688.2" r="5.1" stroke-width="2.2" fill="#fff"/>
<circle cx="1991" cy="710.1" r="5.1" stroke-width="2.2" fill="#fff"/>
<circle cx="1991" cy="732" r="5.1" stroke-width="2.2" fill="#fff"/>
<circle cx="1991" cy="753.9" r="5.1" stroke-width="2.2" fill="#fff"/>
<circle cx="1991" cy="775.8" r="5.1" stroke-width="2.2" fill="#fff"/>
<circle cx="1991" cy="797.7" r="5.1" stroke-width="2.2" fill="#fff"/>
<circle cx="1991" cy="819.6" r="5.1" stroke-width="2.2" fill="#fff"/>
<circle cx="1991" cy="841.5" r="5.1" stroke-width="2.2" fill="#fff"/>
<circle cx="1991" cy="863.4" r="5.1" stroke-width="2.2" fill="#fff"/>
<circle cx="1991" cy="885.3" r="5.1" stroke-width="2.2" fill="#fff"/>
<circle cx="1991" cy="907.2" r="5.1" stroke-width="2.2" fill="#fff"/>
<circle cx="1991" cy="929.1" r="5.1" stroke-width="2.2" fill="#fff"/>
<circle cx="1991" cy="951" r="5.1" stroke-width="2.2" fill="#fff"/>
<circle cx="1991" cy="972.9" r="5.1" stroke-width="2.2" fill="#fff"/>
<circle cx="1991" cy="994.8" r="5.1" stroke-width="2.2" fill="#fff"/>
<circle cx="1991" cy="1016.7" r="5.1" stroke-width="2.2" fill="#fff"/>
<path d="M1852.6 24.9L1944.3 24.9" stroke-width="1.8"/>
<path d="M1962.3 24.9L1979.3 24.9" stroke-width="1.8"/>
<path d="M1944.3 24.9L1962.3 22L1962.3 27.8Z" stroke-width="1.8" fill="#fff" stroke-linejoin="round"/>
<path d="M1997.3 24.9L1979.3 22L1979.3 27.8Z" stroke-width="1.8" fill="#fff" stroke-linejoin="round"/>
<text class="a" transform="translate(1890 20.3)" font-size="26" text-anchor="middle">83-98</text>
<path d="M1834.3 63.5L1926 63.5" stroke-width="1.8"/>
<path d="M1944.3 63.5L1971.8 63.5" stroke-width="1.8"/>
<path d="M1990.5 63.5L2008.4 63.5" stroke-width="1.8"/>
<path d="M1944.3 63.5L1926.3 60.6L1926.3 66.4Z" stroke-width="1.8" fill="#fff" stroke-linejoin="round"/>
<path d="M1971.8 63.5L1989.8 60.6L1989.8 66.4Z" stroke-width="1.8" fill="#fff" stroke-linejoin="round"/>
<text class="a" transform="translate(1871.6 58.9)" font-size="26" text-anchor="middle">33-48</text>
<path d="M1881.4 173.7L1987.5 173.7" stroke-width="1.8"/>
<path d="M1881.4 983.7L1987.5 983.7" stroke-width="1.8"/>
<path d="M1881.4 173.7L1878.6 191.7L1884.2 191.7Z" stroke-width="1.8" fill="#fff" stroke-linejoin="round"/>
<path d="M1881.4 983.7L1878.6 965.7L1884.2 965.7Z" stroke-width="1.8" fill="#fff" stroke-linejoin="round"/>
<path d="M1881.4 191.5L1881.4 965.8" stroke-width="1.8"/>
<text class="a" transform="translate(1875.2 577) rotate(-90)" font-size="26.8" text-anchor="middle">HBB=H-166</text>
<path d="M1881.4 983.7L1881.4 1026.1" stroke-width="1.8"/>
<path d="M1881.4 1026.1L1878.6 1044.1L1884.2 1044.1Z" stroke-width="1.8" fill="#fff" stroke-linejoin="round"/>
<path d="M1881.4 1044.1L1881.4 1061.4" stroke-width="1.8"/>
<path d="M1881.4 1026.1L1984 1026.1" stroke-width="1.8"/>
<text class="a" transform="translate(1875 1004.6) rotate(-90)" font-size="26" text-anchor="middle">83</text>
<path d="M1985.5 1023.8L2048 1023.8" stroke-width="2.7"/>
<path d="M1979.6 1026.1L1979.6 1100.8" stroke-width="2"/>
<path d="M1991.4 1026.1L1991.4 1144.4" stroke-width="2"/>
<path d="M1812.7 1100.8L1926 1100.8" stroke-width="1.8"/>
<path d="M1944.3 1100.8L1979.6 1100.8" stroke-width="1.8"/>
<path d="M1998 1100.8L2015.6 1100.8" stroke-width="1.8"/>
<path d="M1944.3 1100.8L1926.3 1097.9L1926.3 1103.7Z" stroke-width="1.8" fill="#fff" stroke-linejoin="round"/>
<path d="M1979.6 1100.8L1997.6 1097.9L1997.6 1103.7Z" stroke-width="1.8" fill="#fff" stroke-linejoin="round"/>
<text class="a" transform="translate(1849.7 1094.6)" font-size="26" text-anchor="middle">49-64</text>
<path d="M1811.4 1144.4L1926 1144.4" stroke-width="1.8"/>
<path d="M1944.3 1144.4L1991.4 1144.4" stroke-width="1.8"/>
<path d="M2009.7 1144.4L2027.4 1144.4" stroke-width="1.8"/>
<path d="M1944.3 1144.4L1926.3 1141.5L1926.3 1147.3Z" stroke-width="1.8" fill="#fff" stroke-linejoin="round"/>
<path d="M1991.4 1144.4L2009.4 1141.5L2009.4 1147.3Z" stroke-width="1.8" fill="#fff" stroke-linejoin="round"/>
<text class="a" transform="translate(1851 1138.8)" font-size="26" text-anchor="middle">72-87</text>
<path d="M2044.7 997.2L2044.7 1011" stroke-width="1.8"/>
<path d="M2044.7 1023L2042.5 1010.5L2046.9 1010.5Z" stroke-width="1.4" fill="#333" stroke-linejoin="round"/>
<path d="M2044.7 1025.6L2042.5 1038.1L2046.9 1038.1Z" stroke-width="1.4" fill="#333" stroke-linejoin="round"/>
<path d="M2044.7 1037.6L2044.7 1082.5" stroke-width="1.8"/>
<text class="m" transform="translate(2034.8 1065.3) rotate(-90)" x="-16.1 -6.7 2.6" y="0" font-size="22.5">(4)</text>
</g>
</svg>
</body>
</html>
